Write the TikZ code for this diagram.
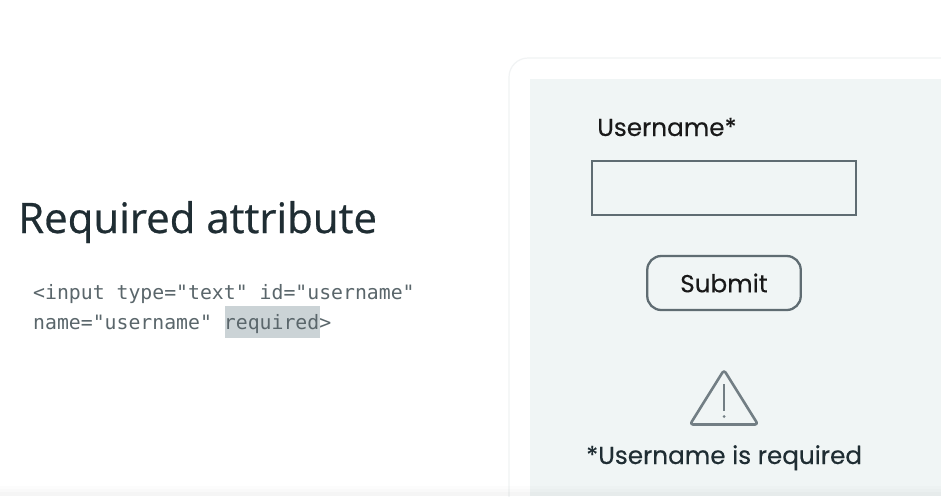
\documentclass[tikz,border=0pt]{standalone}
\usepackage{fontspec}
\setmainfont{Open Sans}
\newfontfamily\codefont{DejaVu Sans Mono}
\newfontfamily\uifont[FakeBold=0.25]{Poppins}
\newfontfamily\titlefont[FakeBold=0.6]{Open Sans}
\definecolor{panel}{HTML}{F0F5F5}
\definecolor{edge}{HTML}{5F6C72}
\definecolor{cardedge}{HTML}{F1F3F4}
\definecolor{titlec}{HTML}{1F2D33}
\definecolor{codec}{HTML}{5A666B}
\definecolor{hilite}{HTML}{CBD3D6}
\definecolor{warn}{HTML}{727E84}
\tikzset{
  x=1pt,y=-1pt,
  lbl/.style={inner sep=0pt,anchor=base west},
  uitext/.style={lbl,font=\uifont\fontsize{24.7}{30}\selectfont,text=black!90},
  codetext/.style={lbl,font=\codefont\fontsize{19.8}{24}\selectfont,text=codec},
  ctl/.style={draw=edge,line width=2.3pt},
  band/.style={fill=black,draw=none}
}
\begin{document}
\begin{tikzpicture}
\useasboundingbox (0,0) rectangle (941,496);
\fill[white] (0,0) rectangle (941,496);
\draw[cardedge,line width=1.2pt,fill=white,rounded corners=19pt] (960,58) -- (509,58) -- (509,520);
\fill[panel] (530,79) rectangle (941,496);
\fill[band,opacity=.01] (0,486) rectangle (941,496);
\fill[band,opacity=.012] (0,489) rectangle (941,496);
\fill[band,opacity=.015] (0,492) rectangle (941,496);
\fill[hilite] (225,306) rectangle (320,338);
\node[lbl,font=\titlefont\fontsize{42}{50}\selectfont,text=titlec] (title) at (18,233) {Required attribute};
\node[codetext] (code1) at (33,299) {<input type="text" id="username"};
\node[codetext] (code2) at (33,329) {name="username" required>};
\node[uitext] (ulabel) at (597,136) {Username*};
\node[ctl,inner sep=0pt,minimum width=264.5pt,minimum height=54pt] (field) at (724,188) {};
\node[ctl,rounded corners=14pt,inner sep=0pt,minimum width=153.5pt,minimum height=54pt,font=\uifont\fontsize{24.7}{30}\selectfont,text=black!90] (submit) at (724,283) {Submit};
\draw[warn,line width=2.6pt,line join=round,rounded corners=3pt] (724,370) -- (758,424.5) -- (690,424.5) -- cycle;
\draw[warn,line width=2.4pt] (724,384) -- (724,411);
\fill[warn] (724,416.5) circle (1.5);
\node[uitext,text=titlec] (msg) at (586,464) {*Username is required};
\end{tikzpicture}
\end{document}
